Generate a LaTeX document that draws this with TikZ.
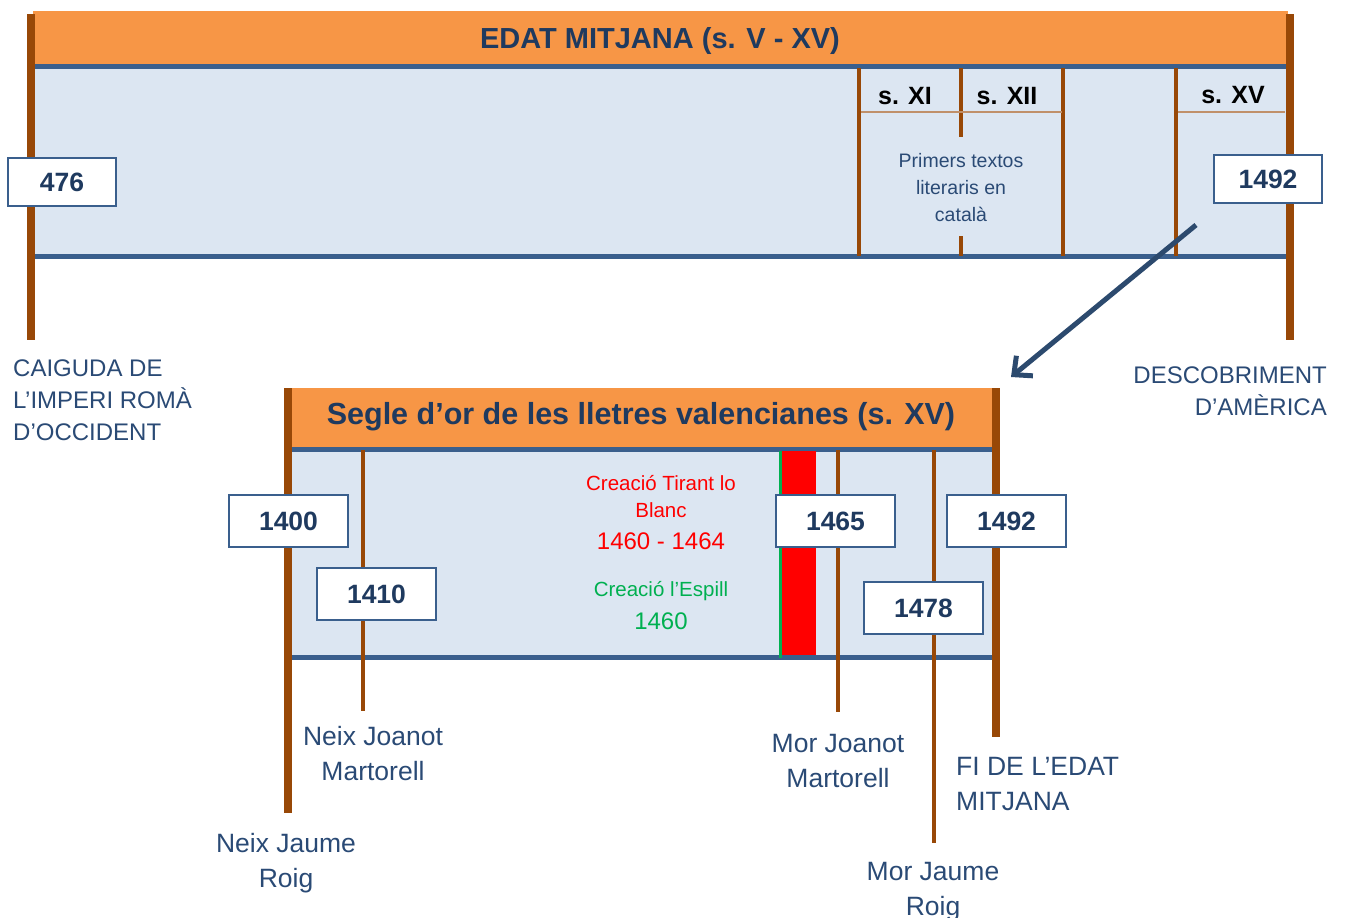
\documentclass[tikz,border=0pt]{standalone}
\usepackage{fontspec}
\setmainfont{Liberation Sans}
\usetikzlibrary{arrows.meta}
\definecolor{orangeH}{HTML}{F79646}
\definecolor{paleblue}{HTML}{DCE6F2}
\definecolor{lineblue}{HTML}{3A5F8D}
\definecolor{brownbar}{HTML}{984807}
\definecolor{darktext}{HTML}{1F3A5F}
\definecolor{labeltext}{HTML}{2A4A75}
\definecolor{arrowblue}{HTML}{2C4A6E}
\definecolor{tirantred}{HTML}{FF0000}
\definecolor{espillgreen}{HTML}{00B050}
\definecolor{thinbrown}{HTML}{C0906A}
\begin{document}
\begin{tikzpicture}[x=1pt,y=-1pt,
  header/.style={fill=orangeH, draw=none},
  panel/.style={fill=paleblue, draw=none},
  blueline/.style={draw=lineblue, line width=5pt},
  endbar/.style={draw=brownbar, line width=8pt},
  tickbar/.style={draw=brownbar, line width=4pt},
  thinrule/.style={draw=thinbrown, line width=1.5pt},
  yearbox/.style={draw=lineblue, line width=1.5pt, fill=white, inner sep=0pt,
    font=\fontsize{26.5}{30}\selectfont\bfseries, text=darktext},
  topbox/.style={yearbox, minimum width=108pt, minimum height=48pt},
  botbox/.style={yearbox, minimum width=119pt, minimum height=52pt},
  titletext/.style={font=\fontsize{29}{32}\selectfont\bfseries, text=darktext, inner sep=0pt},
  centtext/.style={font=\fontsize{25}{30}\selectfont\bfseries, text=black, inner sep=0pt},
  toplbl/.style={font=\fontsize{24}{32}\selectfont, text=labeltext, inner sep=0pt},
  botlbl/.style={font=\fontsize{26.5}{35}\selectfont, text=labeltext, inner sep=0pt, align=center},
  smalltxt/.style={font=\fontsize{20.5}{27}\selectfont, inner sep=0pt, align=center},
  numtxt/.style={font=\fontsize{24}{27}\selectfont, inner sep=0pt}
]
\useasboundingbox (0,0) rectangle (1345,918);

% ---------- top timeline ----------
\fill[header] (33,11) rectangle (1288,65);
\fill[panel] (33,65) rectangle (1288,256);
\draw[blueline] (33,66) -- (1288,66);
\draw[blueline] (33,256) -- (1288,256);
\draw[tickbar] (859,68) -- (859,256);
\draw[tickbar] (961,68) -- (961,137);
\draw[tickbar] (961,236) -- (961,256);
\draw[tickbar] (1063,68) -- (1063,256);
\draw[tickbar] (1176,68) -- (1176,256);
\draw[thinrule] (861,112) -- (1062,112);
\draw[thinrule] (1178,112) -- (1285,112);
\draw[endbar] (31,14) -- (31,340);
\draw[endbar] (1290,14) -- (1290,340);

\node[titletext] (t1) at (660,41) {EDAT MITJANA (s. V - XV)};
\node[centtext] (sXI) at (905,96) {s. XI};
\node[centtext] (sXII) at (1007,96) {s. XII};
\node[centtext] (sXV) at (1233,95) {s. XV};
\node[smalltxt, font=\fontsize{19.5}{27}\selectfont, text=labeltext] (primers) at (961,188) {Primers textos\\literaris en\\català};
\node[topbox] (y476) at (62,182) {476};
\node[topbox] (y1492a) at (1268,179) {1492};
\node[toplbl, anchor=west, align=left] (caiguda) at (13,400) {CAIGUDA DE\\L’IMPERI ROMÀ\\D’OCCIDENT};
\node[toplbl, anchor=east, align=right] (descob) at (1327,391) {DESCOBRIMENT\\D’AMÈRICA};

% ---------- bottom timeline ----------
\fill[header] (289,388) rectangle (995,447);
\fill[panel] (289,447) rectangle (995,657);
\draw[blueline] (292,449) -- (995,449);
\draw[blueline] (292,657) -- (995,657);
\fill[tirantred] (782,451) rectangle (816,655);
\draw[draw=espillgreen, line width=3pt] (780,451) -- (780,658);
\draw[tickbar] (363,450) -- (363,711);
\draw[tickbar] (838,450) -- (838,712);
\draw[tickbar] (934,450) -- (934,843);
\draw[endbar] (288,388) -- (288,813);
\draw[endbar] (996,388) -- (996,737);

\node[titletext, font=\fontsize{30.5}{33}\selectfont\bfseries] (t2) at (641,417) {Segle d’or de les lletres valencianes (s. XV)};

\node[smalltxt, text=tirantred] (tirant) at (661,497) {Creació Tirant lo\\Blanc};
\node[numtxt, text=tirantred] (tirantyr) at (661,541) {1460 - 1464};
\node[smalltxt, text=espillgreen] (espill) at (661,591) {Creació l’Espill};
\node[numtxt, text=espillgreen] (espillyr) at (661,621) {1460};

\node[botbox] (y1400) at (288.5,521) {1400};
\node[botbox] (y1410) at (376.5,594) {1410};
\node[botbox] (y1465) at (835.5,521) {1465};
\node[botbox] (y1492b) at (1006.5,521) {1492};
\node[botbox] (y1478) at (923.5,608) {1478};

\node[botlbl] (neixJM) at (373,754) {Neix Joanot\\Martorell};
\node[botlbl] (neixJR) at (286,863) {Neix Jaume\\Roig};
\node[botlbl] (morJM) at (838,761) {Mor Joanot\\Martorell};
\node[botlbl] (morJR) at (933,892) {Mor Jaume\\Roig};
\node[botlbl, anchor=west, align=left] (fi) at (956,784) {FI DE L’EDAT\\MITJANA};

% ---------- arrow ----------
\coordinate (arrS) at (1196,225);
\coordinate (arrE) at (1011,377);
\draw[draw=arrowblue, line width=5pt, -{Straight Barb[length=14pt,width=26pt]}] (arrS) -- (arrE);
\end{tikzpicture}
\end{document}
